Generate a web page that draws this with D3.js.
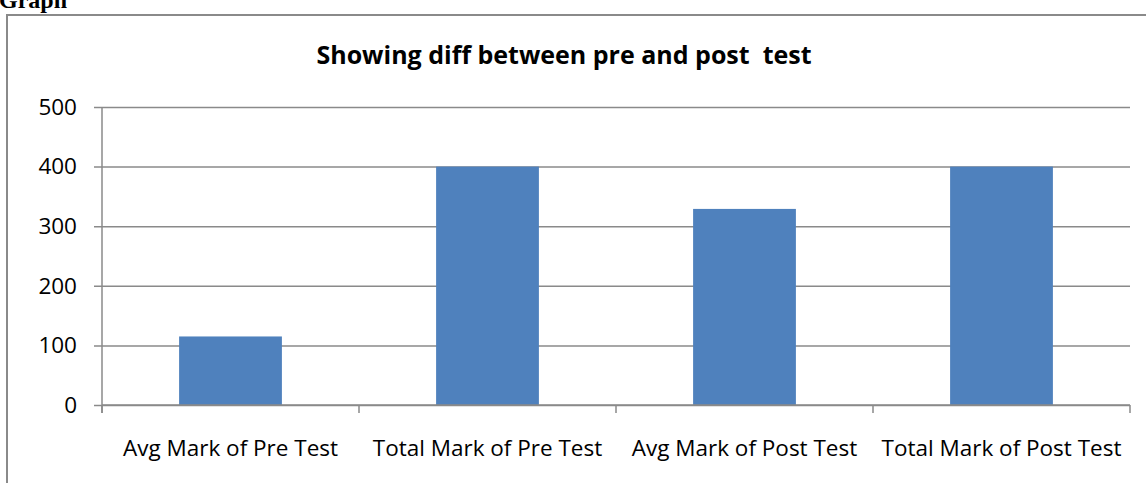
<!DOCTYPE html>
<html lang="en">
<head>
    <meta charset="UTF-8">
    <title>Showing diff between pre and post test</title>
    <script src="https://d3js.org/d3.v7.min.js"></script>
    <style>
        body { margin: 0; background: #fff; }
        svg { display: block; }
        .tick-label { font-family: "Open Sans", sans-serif; font-size: 22.5px; fill: #000; }
        .title { font-family: "Open Sans", sans-serif; font-weight: bold; font-size: 25px; fill: #000; }
        .doc-label { font-family: "Liberation Serif", serif; font-weight: bold; font-size: 24px; }
    </style>
</head>
<body>
<div id="chart"></div>
<script>
    var categories = ["Avg Mark of Pre Test", "Total Mark of Pre Test", "Avg Mark of Post Test", "Total Mark of Post Test"];
    var marks = [115, 400, 329, 400];
    var yTicks = [0, 100, 200, 300, 400, 500];

    var w = 1146, h = 483;
    var plotLeft = 102, plotRight = 1130, plotTop = 107, plotBottom = 405;
    var axisColor = "#8a8a8a";

    var svg = d3.select("#chart").append("svg")
        .attr("width", w)
        .attr("height", h);

    // heading above the chart box
    svg.append("text")
        .attr("class", "doc-label")
        .attr("x", -1)
        .attr("y", 8)
        .text("Graph");

    // chart box border (left + top only visible)
    svg.append("path")
        .attr("d", "M7,483 V15 H1146")
        .attr("fill", "none")
        .attr("stroke", axisColor)
        .attr("stroke-width", 2);

    var x = d3.scaleBand()
        .domain(categories)
        .range([plotLeft, plotRight])
        .paddingInner(0.6)
        .paddingOuter(0.3);

    var y = d3.scaleLinear()
        .domain([0, 500])
        .range([plotBottom, plotTop]);

    // gridlines + y axis labels
    var yAxis = d3.axisLeft(y)
        .tickValues(yTicks)
        .tickSize(-(plotRight - plotLeft))
        .tickPadding(25)
        .tickFormat(d3.format("d"));

    var gy = svg.append("g")
        .attr("transform", "translate(" + plotLeft + ",0)")
        .call(yAxis);
    gy.attr("font-family", null).attr("font-size", null);
    gy.select(".domain").remove();
    gy.selectAll(".tick line")
        .attr("x1", -8)
        .attr("stroke", axisColor)
        .attr("stroke-width", 1.5);
    gy.selectAll(".tick text")
        .attr("class", "tick-label");

    // bars
    svg.selectAll("rect.bar")
        .data(marks)
        .enter().append("rect")
        .attr("class", "bar")
        .attr("x", function(d, i) { return x(categories[i]); })
        .attr("y", function(d) { return y(d); })
        .attr("width", x.bandwidth())
        .attr("height", function(d) { return y(0) - y(d); })
        .attr("fill", "#4f81bd");

    // y axis line
    svg.append("line")
        .attr("x1", plotLeft).attr("x2", plotLeft)
        .attr("y1", plotTop).attr("y2", plotBottom + 8)
        .attr("stroke", axisColor)
        .attr("stroke-width", 1.5);

    // x axis ticks at category boundaries
    var bounds = d3.range(categories.length + 1).map(function(i) {
        return plotLeft + i * (plotRight - plotLeft) / categories.length;
    });
    svg.selectAll("line.xtick")
        .data(bounds)
        .enter().append("line")
        .attr("class", "xtick")
        .attr("x1", function(d) { return d; })
        .attr("x2", function(d) { return d; })
        .attr("y1", plotBottom)
        .attr("y2", plotBottom + 8)
        .attr("stroke", axisColor)
        .attr("stroke-width", 1.5);

    svg.append("line")
        .attr("x1", plotLeft).attr("x2", plotRight)
        .attr("y1", plotBottom).attr("y2", plotBottom)
        .attr("stroke", axisColor)
        .attr("stroke-width", 1.5);

    // x labels
    svg.selectAll("text.xlabel")
        .data(categories)
        .enter().append("text")
        .attr("class", "tick-label xlabel")
        .attr("x", function(d) { return x(d) + x.bandwidth() / 2; })
        .attr("y", 456)
        .attr("text-anchor", "middle")
        .text(function(d) { return d; });

    // title
    svg.append("text")
        .attr("class", "title")
        .attr("x", 564)
        .attr("y", 64)
        .attr("text-anchor", "middle")
        .text("Showing diff between pre and post\u00a0 test");
</script>
</body>
</html>
